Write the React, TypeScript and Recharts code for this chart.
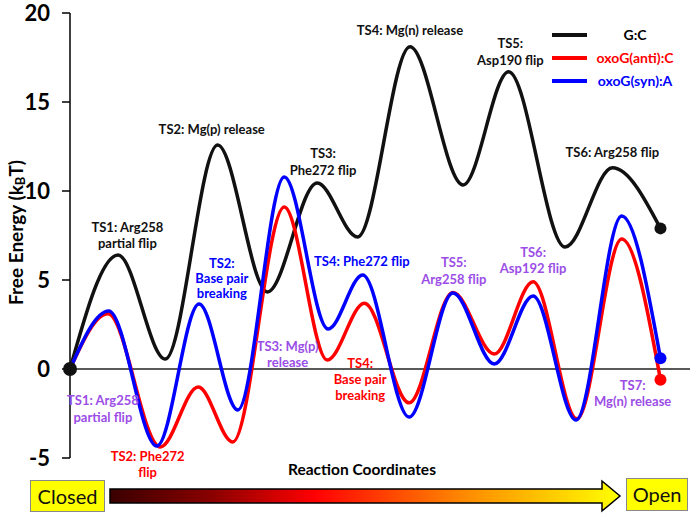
import { LineChart, Line, XAxis, YAxis, ReferenceLine, ReferenceDot, Label } from "recharts"

// free energy extrema along the reaction coordinate
const gcX = [0, 0.57, 1.13, 1.75, 2.34, 2.93, 3.41, 4.03, 4.66, 5.2, 5.87, 6.43, 7.0]
const gcY = [0, 6.4, 0.56, 12.58, 4.33, 10.45, 7.42, 18.1, 10.34, 16.7, 6.85, 11.3, 7.9]
const antiX = [0, 0.45, 1.07, 1.52, 1.93, 2.54, 3.05, 3.49, 4.02, 4.54, 5.03, 5.49, 6.01, 6.54, 7.0]
const antiY = [0, 3.1, -4.38, -1.01, -4.1, 9.1, 0.5, 3.7, -1.9, 4.3, 0.84, 4.9, -2.8, 7.3, -0.6]
const synX = [0, 0.46, 1.03, 1.53, 1.99, 2.54, 3.06, 3.47, 4.02, 4.54, 5.03, 5.49, 6.0, 6.54, 7.0]
const synY = [0, 3.26, -4.33, 3.65, -2.3, 10.79, 2.25, 5.28, -2.7, 4.27, 0.28, 4.1, -2.87, 8.6, 0.6]
const yTicks = [-5, 0, 5, 10, 15, 20]
const seriesNames = ["G:C", "oxoG(anti):C", "oxoG(syn):A"]

const toRows = (xs: number[], ys: number[]) => xs.map((x, i) => ({ x, e: ys[i] }))
const gcData = toRows(gcX, gcY)
const antiData = toRows(antiX, antiY)
const synData = toRows(synX, synY)

const INK = "#111"
const RED = "#ff0000"
const BLUE = "#0000ff"
const PURPLE = "#9b4de6"
const FONT = "Lato, 'Open Sans', sans-serif"
const seriesColors = [INK, RED, BLUE]

const notes = [
    { x: 0.68, y: 7.98, c: INK, gap: 16, lines: ["TS1: Arg258", "partial flip"] },
    { x: 1.68, y: 13.48, c: INK, gap: 16, lines: ["TS2: Mg(p) release"] },
    { x: 3.0, y: 12.13, c: INK, gap: 17, lines: ["TS3:", "Phe272 flip"] },
    { x: 4.03, y: 19.04, c: INK, gap: 16, lines: ["TS4: Mg(n) release"] },
    { x: 5.22, y: 18.31, c: INK, gap: 17, lines: ["TS5:", "Asp190 flip"] },
    { x: 6.43, y: 12.19, c: INK, gap: 16, lines: ["TS6: Arg258 flip"] },
    { x: 1.8, y: 5.96, c: BLUE, gap: 15, lines: ["TS2:", "Base pair", "breaking"] },
    { x: 3.46, y: 6.07, c: BLUE, gap: 16, lines: ["TS4: Phe272 flip"] },
    { x: 0.39, y: -1.74, c: PURPLE, gap: 17, lines: ["TS1: Arg258", "partial flip"] },
    { x: 2.58, y: 1.29, c: PURPLE, gap: 16, lines: ["TS3: Mg(p)", "release"] },
    { x: 4.55, y: 6.01, c: PURPLE, gap: 17, lines: ["TS5:", "Arg258 flip"] },
    { x: 5.49, y: 6.57, c: PURPLE, gap: 16, lines: ["TS6:", "Asp192 flip"] },
    { x: 6.67, y: -0.9, c: PURPLE, gap: 16, lines: ["TS7:", "Mg(n) release"] },
    { x: 3.44, y: 0.34, c: RED, gap: 16, lines: ["TS4:", "Base pair", "breaking"] },
    { x: 0.92, y: -4.89, c: RED, gap: 16, lines: ["TS2: Phe272", "flip"] },
]

function YTitle(props: any) {
    const vb = props.viewBox || { x: 0, y: 13, width: 70, height: 445 }
    const cx = 15
    const cy = vb.y + vb.height / 2 - 3
    return (
        <text x={cx} y={cy} transform={`rotate(-90, ${cx}, ${cy})`} textAnchor="middle"
            dominantBaseline="central" fontFamily={FONT} fontWeight={700} fontSize={19} fill="#000">
            Free Energy (k<tspan dy={5} fontSize={13}>B</tspan><tspan dy={-5}>T)</tspan>
        </text>
    )
}

export default function App() {
    return (
        <div style={{ position: "absolute", left: 0, top: 0, width: 692, height: 515, background: "#fff", fontFamily: FONT }}>
            <LineChart width={692} height={515} margin={{ top: 13, right: 2, bottom: 57, left: 0 }}>
                <XAxis type="number" dataKey="x" domain={[0, 7.35]} hide allowDataOverflow />
                <YAxis type="number" domain={[-5, 20]} ticks={yTicks} width={70} interval={0}
                    axisLine={{ stroke: "#000", strokeWidth: 1.5 }}
                    tickLine={{ stroke: "#000", strokeWidth: 1.5 }} tickSize={8} tickMargin={12}
                    tick={{ fill: "#000", fontSize: 22, fontWeight: 700, fontFamily: FONT }}>
                    <Label content={<YTitle />} />
                </YAxis>
                <ReferenceLine y={0} stroke="#222" strokeWidth={1.5} />
                <Line data={gcData} dataKey="e" name={seriesNames[0]} type="monotone" stroke={INK} strokeWidth={3.5}
                    dot={false} isAnimationActive={false} />
                <Line data={antiData} dataKey="e" name={seriesNames[1]} type="monotone" stroke={RED} strokeWidth={3.5}
                    dot={false} isAnimationActive={false} />
                <Line data={synData} dataKey="e" name={seriesNames[2]} type="monotone" stroke={BLUE} strokeWidth={3.5}
                    dot={false} isAnimationActive={false} />
                <ReferenceDot x={gcX[gcX.length - 1]} y={gcY[gcY.length - 1]} r={6} fill={INK} stroke="none" ifOverflow="visible" />
                <ReferenceDot x={antiX[antiX.length - 1]} y={antiY[antiY.length - 1]} r={6} fill={RED} stroke="none" ifOverflow="visible" />
                <ReferenceDot x={synX[synX.length - 1]} y={synY[synY.length - 1]} r={6} fill={BLUE} stroke="none" ifOverflow="visible" />
                <ReferenceDot x={gcX[0]} y={gcY[0]} r={7} fill={INK} stroke="none" ifOverflow="visible" />
                {notes.map((n, i) => (
                    <ReferenceDot key={i} x={n.x} y={n.y} r={0} ifOverflow="visible"
                        shape={(p: any) => (
                            <text x={p.cx} y={p.cy} textAnchor="middle" dominantBaseline="central"
                                fontFamily={FONT} fontWeight={700} fontSize={13} fill={n.c}>
                                {n.lines.map((t, j) => (
                                    <tspan key={j} x={p.cx} dy={j === 0 ? 0 : n.gap}>{t}</tspan>
                                ))}
                            </text>
                        )} />
                ))}
            </LineChart>
            {/* legend */}
            <div style={{ position: "absolute", left: 552, top: 23, fontWeight: 700, fontSize: 14 }}>
                {seriesNames.map((name, i) => (
                    <div key={name} style={{ display: "flex", alignItems: "center", height: 23 }}>
                        <div style={{ width: 35, height: 4, background: seriesColors[i], marginRight: 9 }} />
                        <div style={{ width: 78, textAlign: "center", color: i === 0 ? "#000" : seriesColors[i] }}>{name}</div>
                    </div>
                ))}
            </div>
            <div style={{ position: "absolute", left: 0, top: 460, width: 724, textAlign: "center", fontWeight: 700, fontSize: 15.5, color: "#000" }}>
                Reaction Coordinates
            </div>
            <div style={{ position: "absolute", left: 30, top: 480, width: 75, height: 32, boxSizing: "border-box", background: "#ffff00", border: "1px solid #888", fontSize: 20, lineHeight: "30px", textAlign: "center", color: "#111" }}>
                Closed
            </div>
            <div style={{ position: "absolute", left: 626, top: 478, width: 62, height: 33, boxSizing: "border-box", background: "#ffff00", border: "1px solid #888", fontSize: 20, lineHeight: "31px", textAlign: "center", color: "#111" }}>
                Open
            </div>
            <svg style={{ position: "absolute", left: 0, top: 0 }} width={692} height={515}>
                <defs>
                    <linearGradient id="flow" x1="0" x2="1" y1="0" y2="0">
                        <stop offset="0" stopColor="#3a0000" />
                        <stop offset="0.2" stopColor="#8a0000" />
                        <stop offset="0.4" stopColor="#ff0000" />
                        <stop offset="0.7" stopColor="#ff8c00" />
                        <stop offset="1" stopColor="#ffff00" />
                    </linearGradient>
                </defs>
                <path d="M110,489 L602,489 L602,481 L620,496 L602,511 L602,503 L110,503 Z"
                    fill="url(#flow)" stroke="#000" strokeWidth={1.5} />
            </svg>
        </div>
    )
}
